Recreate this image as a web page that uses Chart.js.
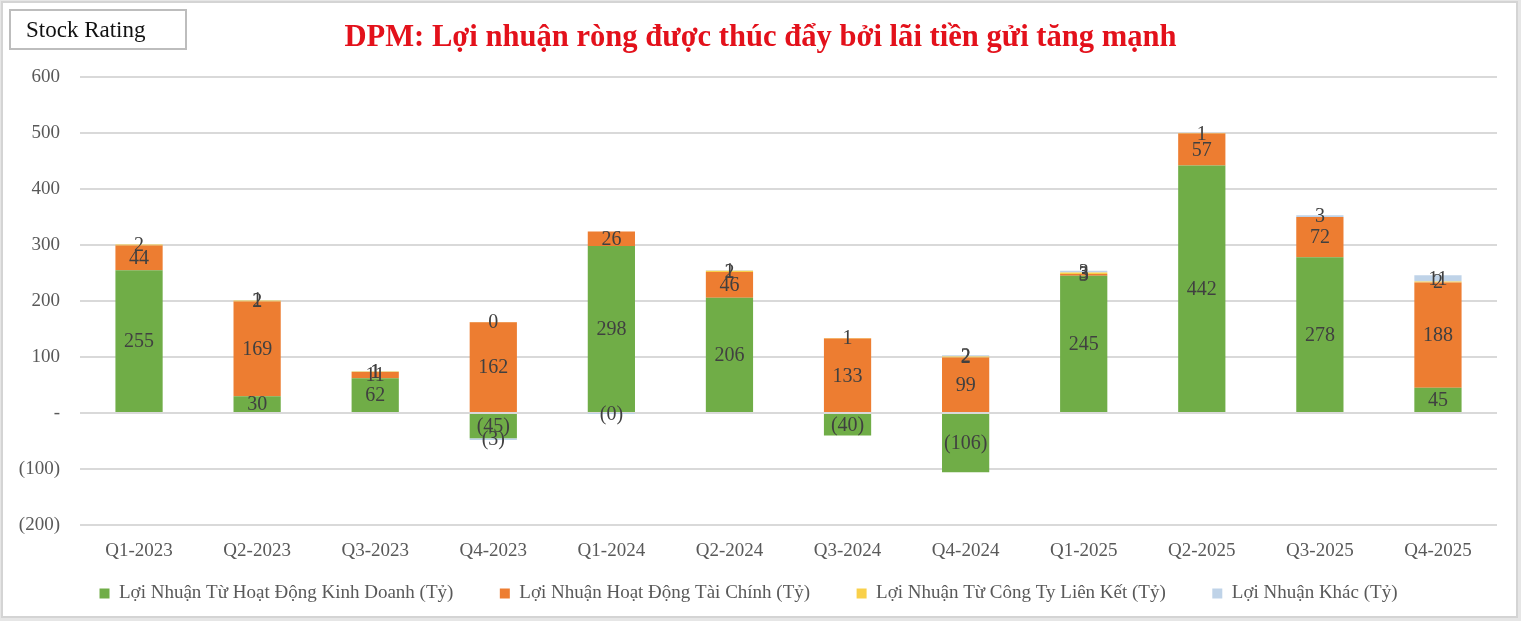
<!DOCTYPE html>
<html>
<head>
<meta charset="utf-8">
<script src="https://cdn.jsdelivr.net/npm/chart.js@4.4.1/dist/chart.umd.min.js"></script>
<style>
  html, body { margin: 0; padding: 0; background: #ffffff; }
  #wrap { position: relative; width: 1521px; height: 621px; overflow: hidden; background: #e6e6e6; }
  #frame { position: absolute; left: 1px; top: 1px; width: 1513px; height: 613px; border: 2px solid #d4d4d4; background: #fff; }
  #cv { position: absolute; left: 0; top: 0; }
  #title { position: absolute; left: 0; width: 1521px; top: 19px; text-align: center;
           font-family: "Liberation Serif", serif; font-weight: bold; font-size: 30.6px; color: #e3111b; }
  #rating { position: absolute; left: 9px; top: 9px; width: 174px; height: 37px; border: 2px solid #bdbdbd;
            font-family: "Liberation Serif", serif; font-size: 23px; color: #111; line-height: 37px; }
  #rating span { margin-left: 15px; }
</style>
</head>
<body>
<div id="wrap">
  <div id="frame"></div>
  <canvas id="cv" width="1521" height="621"></canvas>
  <div id="rating"><span>Stock Rating</span></div>
  <div id="title">DPM: Lợi nhuận ròng được thúc đẩy bởi lãi tiền gửi tăng mạnh</div>
</div>
<script>
const categories = ["Q1-2023","Q2-2023","Q3-2023","Q4-2023","Q1-2024","Q2-2024","Q3-2024","Q4-2024","Q1-2025","Q2-2025","Q3-2025","Q4-2025"];
const kinhDoanh = [255, 30, 62, -45, 298, 206, -40, -106, 245, 442, 278, 45];
const taiChinh  = [44, 169, 11, 162, 26, 46, 133, 99, 3, 57, 72, 188];
const lienKet   = [2, 2, 1, 0.3, null, 2, 1, 2, 3, 1, null, 2];
const khac      = [null, 1, 1, -3, -0.2, 1, null, 2, 3, null, 3, 11];
const seriesNames = [
  "Lợi Nhuận Từ Hoạt Động Kinh Doanh (Tỷ)",
  "Lợi Nhuận Hoạt Động Tài Chính (Tỷ)",
  "Lợi Nhuận Từ Công Ty Liên Kết (Tỷ)",
  "Lợi Nhuận Khác (Tỷ)"
];
const seriesColors = ["#70ad47", "#ed7d31", "#f9d04a", "#bfd3e8"];
const yMin = -200, yMax = 600, yStep = 100;

const FONT = '"Liberation Serif", serif';

function fmt(v) {
  if (v === null || v === undefined) return "";
  const r = Math.round(Math.abs(v));
  return v < 0 ? "(" + r + ")" : String(r);
}

const labelPlugin = {
  id: 'barLabels',
  afterDatasetsDraw(chart) {
    const ctx = chart.ctx;
    ctx.save();
    ctx.font = '20px ' + FONT;
    ctx.fillStyle = '#404040';
    ctx.textAlign = 'center';
    ctx.textBaseline = 'middle';
    chart.data.datasets.forEach((ds, di) => {
      const meta = chart.getDatasetMeta(di);
      meta.data.forEach((el, i) => {
        const v = ds.data[i];
        if (v === null || v === undefined) return;
        const yc = (el.y + el.base) / 2;
        ctx.fillText(fmt(v), el.x, yc + 1);
      });
    });
    ctx.restore();
  }
};

const datasets = [kinhDoanh, taiChinh, lienKet, khac].map((d, i) => ({
  label: seriesNames[i],
  data: d,
  backgroundColor: seriesColors[i],
  borderWidth: 0,
  barPercentage: 0.4,
  categoryPercentage: 1.0,
  stack: 's'
}));

const GAP = "\u00a0\u00a0\u00a0\u00a0\u00a0\u00a0";

new Chart(document.getElementById('cv'), {
  type: 'bar',
  data: { labels: categories, datasets },
  plugins: [labelPlugin],
  options: {
    responsive: false,
    animation: false,
    devicePixelRatio: 1,
    layout: { padding: { left: 0, right: 24, top: 77, bottom: 8 } },
    plugins: {
      title: { display: false },
      tooltip: { enabled: false },
      legend: {
        position: 'bottom',
        labels: {
          font: { family: FONT, size: 19 },
          color: '#595959',
          boxWidth: 10,
          boxHeight: 10,
          padding: 18,
          generateLabels(chart) {
            const items = Chart.defaults.plugins.legend.labels.generateLabels(chart);
            items.forEach((it, i) => { if (i < items.length - 1) it.text = it.text + GAP; });
            return items;
          }
        }
      }
    },
    scales: {
      x: {
        stacked: true,
        grid: { display: false },
        border: { display: false },
        ticks: { font: { family: FONT, size: 19 }, color: '#595959', padding: 7, maxRotation: 0 },
        afterFit(scale) { scale.height = 41; }
      },
      y: {
        stacked: true,
        min: yMin, max: yMax,
        border: { display: false },
        grid: { color: '#d9d9d9', lineWidth: 2, drawTicks: false },
        ticks: {
          stepSize: yStep,
          font: { family: FONT, size: 19 },
          color: '#595959',
          padding: 20,
          callback: (v) => v === 0 ? "-" : (v < 0 ? "(" + Math.abs(v) + ")" : String(v))
        },
        afterFit(scale) { scale.width = 80; }
      }
    }
  }
});
</script>
</body>
</html>
